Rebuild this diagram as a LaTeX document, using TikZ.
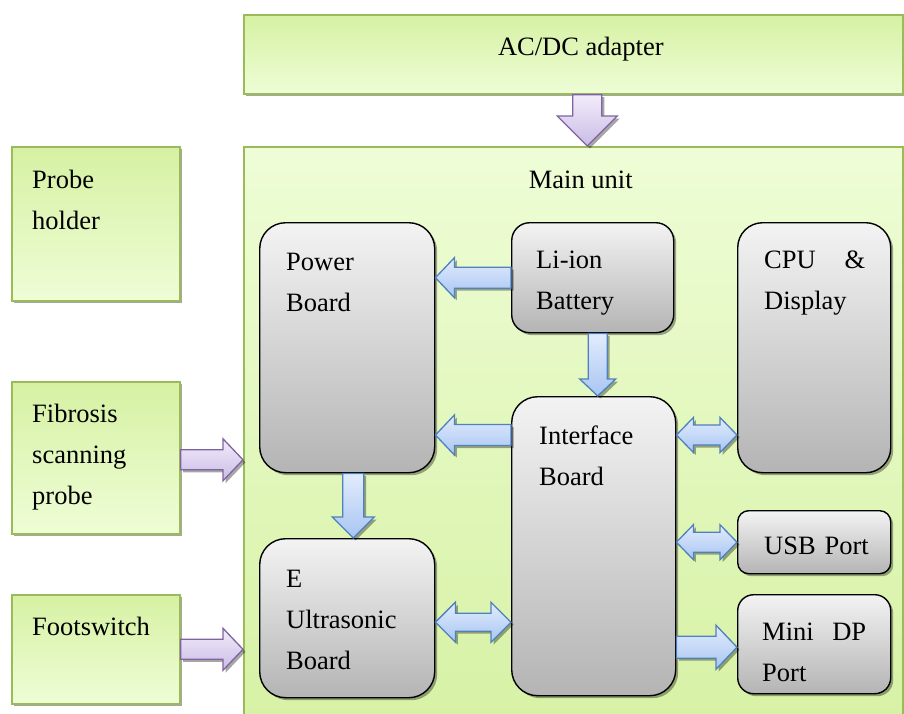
\documentclass[tikz,border=0pt]{standalone}
\usepackage{fontspec}
\setmainfont{Liberation Serif}
\usetikzlibrary{calc,shadows}

\definecolor{grnEdge}{RGB}{155,187,89}
\definecolor{grnDeep}{RGB}{214,241,163}
\definecolor{grnPale}{RGB}{238,253,214}
\definecolor{greyTop}{RGB}{243,243,243}
\definecolor{greyBot}{RGB}{180,180,180}
\definecolor{bluEdge}{RGB}{79,129,189}
\definecolor{bluTop}{RGB}{226,236,253}
\definecolor{bluBot}{RGB}{168,197,242}
\definecolor{purEdge}{RGB}{128,100,162}
\definecolor{purTop}{RGB}{242,236,250}
\definecolor{purBot}{RGB}{202,188,230}

\tikzset{
  softshadow/.style={drop shadow={shadow xshift=2.5pt, shadow yshift=-2.5pt, fill=black, opacity=0.35}},
  greenbox/.style={draw=grnEdge, line width=1.6pt, top color=grnDeep, bottom color=grnPale,
    softshadow, inner sep=0pt, anchor=north west},
  greybox/.style={draw=black, line width=1.4pt, top color=greyTop, bottom color=greyBot,
    softshadow, inner sep=0pt, anchor=north west},
  lbl/.style={font=\fontsize{26.5}{41}\selectfont, inner sep=0pt, text width=125pt,
    align=left, anchor=base west},
  ctrlbl/.style={font=\fontsize{26.5}{41}\selectfont, inner sep=0pt, anchor=base},
  bluearrow/.style={draw=bluEdge, line width=1.3pt, top color=bluTop, bottom color=bluBot,
    softshadow, line join=miter},
  purplearrow/.style={draw=purEdge, line width=1.3pt, top color=purTop, bottom color=purBot,
    softshadow, line join=miter}
}

% block arrow from #2 to #3: shaft half width #4, head half width #5, head length #6 (pt)
\newcommand\blockarrow[6]{%
  \path[#1] let \p1=#2, \p2=#3,
      \n1={veclen(\x2-\x1,\y2-\y1)}, \n2={atan2(\y2-\y1,\x2-\x1)} in
    [shift={(\p1)}, rotate=\n2]
    (0pt,#4pt) -- (\n1-#6pt,#4pt) -- (\n1-#6pt,#5pt) -- (\n1,0pt)
    -- (\n1-#6pt,-#5pt) -- (\n1-#6pt,-#4pt) -- (0pt,-#4pt) -- cycle;}

% double-headed block arrow between #2 and #3
\newcommand\twinarrow[6]{%
  \path[#1] let \p1=#2, \p2=#3,
      \n1={veclen(\x2-\x1,\y2-\y1)}, \n2={atan2(\y2-\y1,\x2-\x1)} in
    [shift={(\p1)}, rotate=\n2]
    (0pt,0pt) -- (#6pt,#5pt) -- (#6pt,#4pt) -- (\n1-#6pt,#4pt) -- (\n1-#6pt,#5pt)
    -- (\n1,0pt) -- (\n1-#6pt,-#5pt) -- (\n1-#6pt,-#4pt) -- (#6pt,-#4pt)
    -- (#6pt,-#5pt) -- cycle;}

\begin{document}
\begin{tikzpicture}[x=1pt, y=-1pt]
\useasboundingbox (0,0) rectangle (904,713);

% outer green blocks
\node[greenbox, minimum width=659pt, minimum height=79pt] (ac) at (243,14) {};
\node[greenbox, top color=grnPale, bottom color=grnDeep,
      minimum width=659pt, minimum height=600pt] (main) at (243,146) {};
\node[greenbox, minimum width=168pt, minimum height=154pt] (holder) at (11,146) {};
\node[greenbox, minimum width=168pt, minimum height=152pt] (fib) at (11,381) {};
\node[greenbox, minimum width=168pt, minimum height=109pt] (foot) at (11,594) {};

% boards inside the main unit
\node[greybox, rounded corners=26pt, minimum width=175pt, minimum height=250pt] (power) at (259,222) {};
\node[greybox, rounded corners=18pt, minimum width=162pt, minimum height=110pt] (batt) at (511,222) {};
\node[greybox, rounded corners=25pt, minimum width=153pt, minimum height=250pt] (cpu) at (737,222) {};
\node[greybox, rounded corners=26pt, minimum width=164pt, minimum height=299pt] (iface) at (511,396) {};
\node[greybox, rounded corners=26pt, minimum width=175pt, minimum height=159pt] (eus) at (259,538) {};
\node[greybox, rounded corners=11pt, minimum width=153pt, minimum height=63pt] (usb) at (737,510) {};
\node[greybox, rounded corners=16pt, minimum width=153pt, minimum height=99pt] (mdp) at (737,594) {};

% labels
\node[ctrlbl] (ac-t) at ([xshift=7.5pt, yshift=-41pt]ac.north) {AC/DC adapter};
\node[ctrlbl] (main-t) at ([xshift=7.5pt, yshift=-42pt]main.north) {Main unit};
\node[lbl] (holder-t) at ([shift={(21pt,-42pt)}]holder.north west) {Probe\\holder};
\node[lbl] (fib-t) at ([shift={(21pt,-41pt)}]fib.north west) {Fibrosis\\scanning\\probe};
\node[lbl] (foot-t) at ([shift={(21pt,-41pt)}]foot.north west) {Footswitch};
\node[lbl] (power-t) at ([shift={(27pt,-48pt)}]power.north west) {Power\\Board};
\node[lbl] (batt-t) at ([shift={(25pt,-46pt)}]batt.north west) {Li-ion\\Battery};
\node[lbl, text width=101pt] (cpu-t) at ([shift={(27pt,-46pt)}]cpu.north west) {CPU\hfill\&\\Display};
\node[lbl] (iface-t) at ([shift={(28pt,-48pt)}]iface.north west) {Interface\\Board};
\node[lbl] (eus-t) at ([shift={(27pt,-49pt)}]eus.north west) {E\\Ultrasonic\\Board};
\node[lbl] (usb-t) at ([shift={(27pt,-44pt)}]usb.north west) {USB Port};
\node[lbl, text width=104pt] (mdp-t) at ([shift={(25pt,-46pt)}]mdp.north west) {Mini\hfill DP\\Port};

% row coordinates on the interface board
\coordinate (ifrowL) at ([yshift=-39pt]iface.north west);
\coordinate (ifrowR) at ([yshift=-39pt]iface.north east);

% connectors
\blockarrow{purplearrow}{([xshift=14pt]ac.south)}{([xshift=14pt]ac.south |- main.north)}{14.5}{30}{30}
\blockarrow{purplearrow}{([yshift=-2pt]fib.east)}{([yshift=-2pt]fib.east -| main.west)}{10}{21}{20}
\blockarrow{purplearrow}{(foot.east)}{(foot.east -| main.west)}{10}{21}{20}

\blockarrow{bluearrow}{(batt.west)}{(batt.west -| power.east)}{10.5}{20}{19}
\blockarrow{bluearrow}{([xshift=5pt]batt.south)}{([xshift=5pt]batt.south |- iface.north)}{9.5}{18}{17}
\blockarrow{bluearrow}{(ifrowL)}{(ifrowL -| power.east)}{10.5}{20}{19}
\blockarrow{bluearrow}{([xshift=6pt]power.south)}{([xshift=6pt]power.south |- eus.north)}{10.5}{21}{21}
\twinarrow{bluearrow}{(ifrowR)}{(ifrowR -| cpu.west)}{10}{17.5}{17}
\twinarrow{bluearrow}{(usb.west -| iface.east)}{(usb.west)}{10}{17.5}{17}
\twinarrow{bluearrow}{([yshift=-4pt]eus.east)}{([yshift=-4pt]eus.east -| iface.west)}{9}{20}{20}
\blockarrow{bluearrow}{([yshift=-3pt]mdp.west -| iface.east)}{([yshift=-3pt]mdp.west)}{11}{22}{21}
\end{tikzpicture}
\end{document}
